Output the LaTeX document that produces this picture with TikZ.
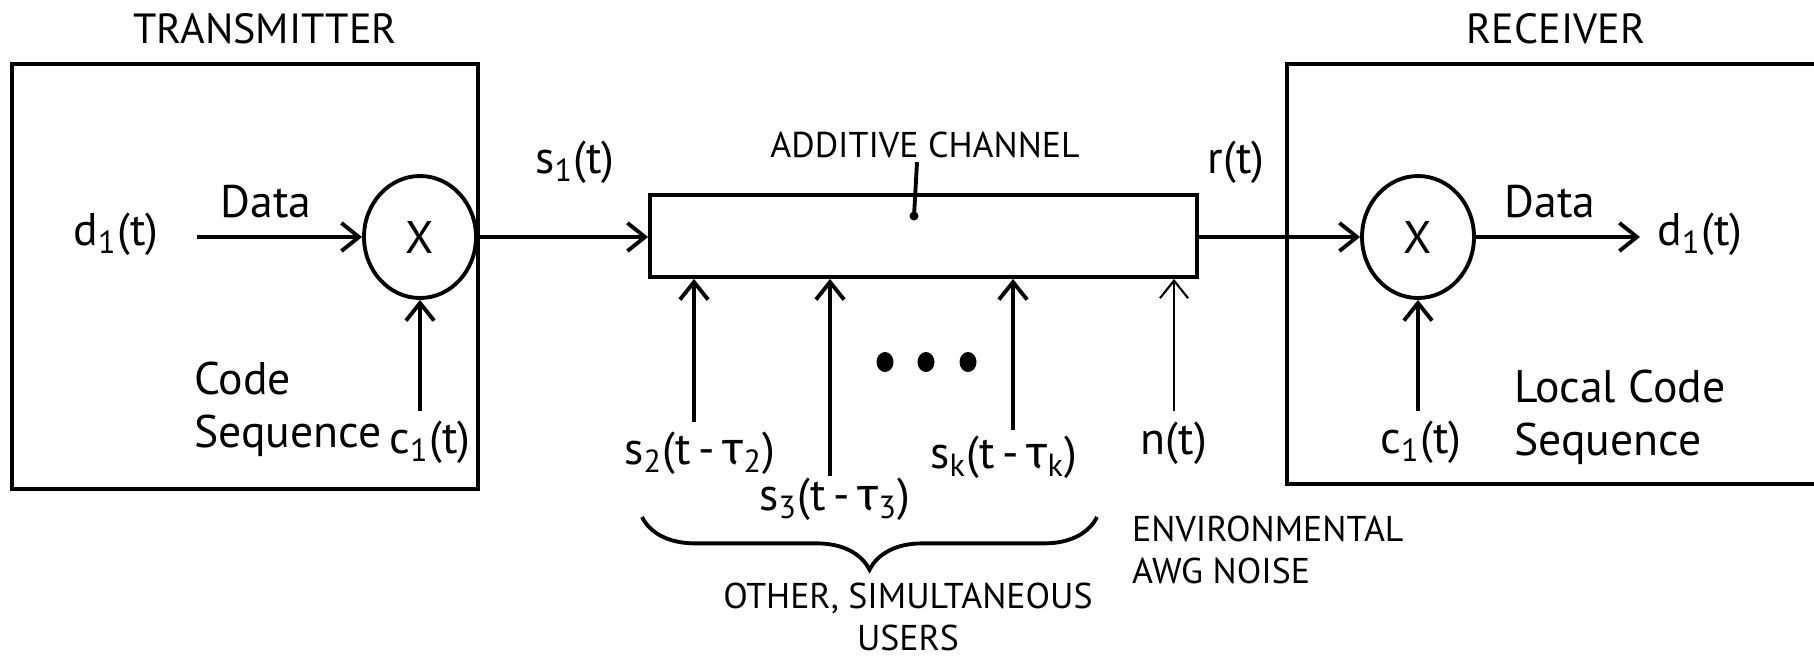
\documentclass[tikz,border=0pt]{standalone}
\usepackage{fontspec}
\setmainfont{PT Sans}
\newfontfamily\greekfont{Fira Sans}
\usepackage{tikz}
\usetikzlibrary{positioning,arrows.meta,shapes.geometric,decorations.pathreplacing}
\newcommand{\tauk}[1]{{\greekfont τ}\textsubscript{#1}}

\begin{document}
\begin{tikzpicture}[
    box/.style={draw, line width=1.1pt, minimum width=#1, inner sep=0pt},
    mixer/.style={draw, line width=1.1pt, ellipse, minimum width=1.12cm, minimum height=1.22cm, font=\fontsize{13}{15}\selectfont, inner sep=0pt},
    arrow/.style={-{Straight Barb[length=5pt,width=8pt]}, line width=1.1pt},
    lbl/.style={font=\fontsize{13}{15}\selectfont, inner sep=1pt},
    headlbl/.style={font=\fontsize{12}{14}\selectfont, inner sep=1pt},
    small/.style={font=\fontsize{10.2}{12}\selectfont, inner sep=1pt, align=left}
  ]
  \useasboundingbox (0,0) rectangle (18.14,6.57);
  \clip (0,0) rectangle (18.14,6.57);

  % Transmitter
  \node[box=4.66cm, minimum height=4.25cm] (tx) at (2.45,3.805) {};
  \node[headlbl] (txlbl) at (2.65,6.28) {TRANSMITTER};
  \node[mixer] (mixT) at (4.20,4.20) {X};
  \node[lbl] (d1in) at (1.16,4.23) {d\textsubscript{1}(t)};
  \node[lbl] (datain) at (2.66,4.55) {Data};
  \coordinate (din) at (1.97,4.20);
  \coordinate (cin) at (4.20,2.46);
  \node[lbl, anchor=west, align=left] (codeT) at (1.90,2.48) {Code\\Sequence};
  \node[lbl] (c1T) at (4.30,2.15) {c\textsubscript{1}(t)};
  \draw[arrow] (din) -- (mixT.west);
  \draw[arrow] (cin) -- (mixT.south);

  % Channel
  \node[box=5.47cm, minimum height=0.82cm] (chan) at (9.235,4.21) {};
  \node[small] (chanlbl) at (9.25,5.12) {ADDITIVE CHANNEL};
  \coordinate (chanpt) at (9.14,4.41);
  \draw[line width=1.1pt] (chanlbl.south) ++(-0.08,0) coordinate (chantop) -- (chanpt);
  \fill (chanpt) circle (0.045);
  \node[lbl] (s1) at (5.75,4.95) {s\textsubscript{1}(t)};
  \draw[arrow] (mixT.east) -- (mixT.east -| chan.west);

  % other users and noise
  \coordinate (u2) at (6.94,2.35);
  \coordinate (u3) at (8.30,1.81);
  \coordinate (uk) at (10.13,2.27);
  \coordinate (un) at (11.74,2.46);
  \foreach \u in {u2,u3,uk} \draw[arrow] (\u) -- (\u |- chan.south);
  \draw[-{Straight Barb[length=5pt,width=8pt]}, line width=0.6pt] (un) -- (un |- chan.south);
  \foreach \x in {8.85,9.26,9.68} \fill (\x,2.95) ellipse (0.085 and 0.1);
  \node[lbl] (s2) at (7.00,2.04) {s\textsubscript{2}(t\,-\,\tauk{2})};
  \node[lbl] (s3) at (8.35,1.58) {s\textsubscript{3}(t\,-\,\tauk{3})};
  \node[lbl] (sk) at (10.04,2.00) {s\textsubscript{k}(t\,-\,\tauk{k})};
  \node[lbl] (nt) at (11.74,2.14) {n(t)};
  \coordinate (brl) at (6.42,1.40);
  \coordinate (brr) at (10.97,1.40);
  \draw[line width=1.1pt, decorate, decoration={brace, mirror, amplitude=15pt}] (brl) -- (brr);
  \node[small, align=center] (users) at (9.08,0.40) {OTHER, SIMULTANEOUS\\USERS};
  \node[small, anchor=west] (noise) at (11.28,1.07) {ENVIRONMENTAL\\AWG NOISE};

  % Receiver
  \node[box=6.13cm, minimum height=4.20cm] (rx) at (15.935,3.83) {};
  \node[headlbl] (rxlbl) at (15.56,6.28) {RECEIVER};
  \node[mixer] (mixR) at (14.18,4.20) {X};
  \node[lbl] (rt) at (12.36,4.95) {r(t)};
  \coordinate (dout) at (16.40,4.20);
  \coordinate (cinR) at (14.18,2.46);
  \node[lbl] (dataout) at (15.50,4.55) {Data};
  \node[lbl] (d1out) at (17.00,4.23) {d\textsubscript{1}(t)};
  \node[lbl] (c1R) at (14.21,2.15) {c\textsubscript{1}(t)};
  \node[lbl, anchor=west, align=left] (codeR) at (15.10,2.40) {Local Code\\Sequence};
  \draw[arrow] (chan.east |- mixR.west) -- (mixR.west);
  \draw[arrow] (mixR.east) -- (dout);
  \draw[arrow] (cinR) -- (mixR.south);
\end{tikzpicture}
\end{document}
